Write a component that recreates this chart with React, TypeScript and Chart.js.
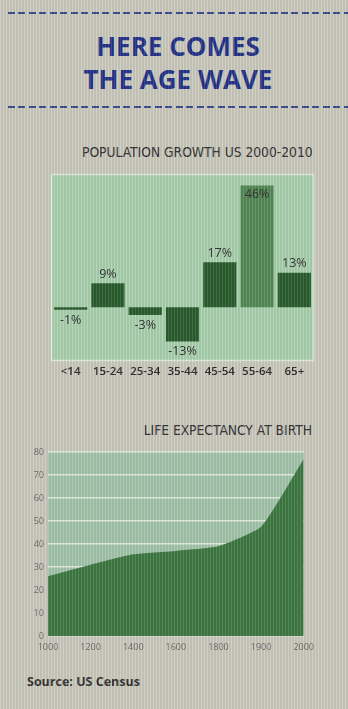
import React, { useEffect, useRef } from "react";
import { Chart, registerables } from "chart.js";

Chart.register(...registerables);
Chart.defaults.font.family = '"Open Sans", "DejaVu Sans", sans-serif';

// ---- data ----
const ageGroups = ["<14", "15-24", "25-34", "35-44", "45-54", "55-64", "65+"];
const growthPct = [-1, 9, -3, -13, 17, 46, 13];

const years = ["1000", "1200", "1400", "1600", "1800", "1900", "2000"];
const lifeExpectancy = [26, 31, 35.5, 37, 39, 47.5, 77];

const growthMin = -20;
const growthMax = 50;
const lifeMin = 0;
const lifeMax = 80;
const lifeStep = 10;

// ---- styles ----
const BAR_DARK = "#2b5e2f";
const BAR_HIGHLIGHT = "#558c57";
const BAR_PLOT_BG = "#acd3b0";
const LINE_PLOT_BG = "#a5c6ad";
const LINE_FILL = "#3f7a43";
const NAVY = "#25348a";

const plotBackground = (color: string, border?: string) => ({
  id: "plotBg",
  beforeDraw(chart: any) {
    const { ctx, chartArea } = chart;
    ctx.save();
    ctx.fillStyle = color;
    ctx.fillRect(chartArea.left, chartArea.top, chartArea.right - chartArea.left, chartArea.bottom - chartArea.top);
    if (border) {
      ctx.strokeStyle = border;
      ctx.lineWidth = 1.5;
      ctx.strokeRect(chartArea.left - 0.5, chartArea.top - 0.5, chartArea.right - chartArea.left + 1, chartArea.bottom - chartArea.top + 1);
    }
    ctx.restore();
  },
});

const valueLabels = {
  id: "valueLabels",
  afterDatasetsDraw(chart: any) {
    const { ctx, chartArea } = chart;
    const meta = chart.getDatasetMeta(0);
    ctx.save();
    ctx.font = '12.5px "Open Sans", sans-serif';
    ctx.fillStyle = "#2f2f2f";
    ctx.textAlign = "center";
    meta.data.forEach((bar: any, i: number) => {
      const v = growthPct[i];
      const text = `${v}%`;
      const { x, y } = bar.getProps(["x", "y"], true);
      if (v >= 0) {
        if (y - 20 < chartArea.top) {
          ctx.textBaseline = "top";
          ctx.fillText(text, x, y + 3);
        } else {
          ctx.textBaseline = "bottom";
          ctx.fillText(text, x, y - 3);
        }
      } else {
        ctx.textBaseline = "top";
        ctx.fillText(text, x, y + 4);
      }
    });
    ctx.restore();
  },
};

function GrowthChart() {
  const ref = useRef<HTMLCanvasElement>(null);
  useEffect(() => {
    const maxIdx = growthPct.indexOf(Math.max(...growthPct));
    const chart = new Chart(ref.current!, {
      type: "bar",
      data: {
        labels: ageGroups,
        datasets: [
          {
            data: growthPct,
            backgroundColor: (c: any) => (c.dataIndex === maxIdx ? BAR_HIGHLIGHT : BAR_DARK),
            borderWidth: 0,
            categoryPercentage: 1,
            barPercentage: 0.89,
          },
        ],
      },
      options: {
        responsive: false,
        animation: false,
        layout: { padding: { left: 12, right: 17, top: 7, bottom: 0 } },
        plugins: { legend: { display: false }, tooltip: { enabled: false } },
        scales: {
          x: {
            grid: { display: false, drawTicks: false },
            border: { display: false },
            ticks: {
              color: "#2a2a2a",
              font: { size: 11.5, weight: 600 },
              padding: 5,
              maxRotation: 0,
              autoSkip: false,
            },
            afterFit: (s: any) => {
              s.height = 25;
            },
          },
          y: { display: false, min: growthMin, max: growthMax },
        },
      },
      plugins: [plotBackground(BAR_PLOT_BG, "#e2ebdc"), valueLabels],
    });
    return () => chart.destroy();
  }, []);
  return (
    <canvas
      ref={ref}
      width={290}
      height={217}
      style={{ position: "absolute", left: 40, top: 168, width: 290, height: 217 }}
    />
  );
}

function LifeChart() {
  const ref = useRef<HTMLCanvasElement>(null);
  useEffect(() => {
    const chart = new Chart(ref.current!, {
      type: "line",
      data: {
        labels: years,
        datasets: [
          {
            data: lifeExpectancy,
            fill: "origin",
            backgroundColor: LINE_FILL,
            borderWidth: 0,
            pointRadius: 0,
            tension: 0.15,
          },
        ],
      },
      options: {
        responsive: false,
        animation: false,
        layout: { padding: { left: 0, right: 7, top: 12, bottom: 0 } },
        plugins: { legend: { display: false }, tooltip: { enabled: false } },
        scales: {
          x: {
            grid: { display: false, drawTicks: false },
            border: { display: false },
            ticks: { color: "#6a6a6a", font: { size: 9 }, padding: 6, maxRotation: 0, autoSkip: false },
            afterFit: (s: any) => {
              s.height = 26;
            },
          },
          y: {
            min: lifeMin,
            max: lifeMax,
            z: 1,
            grid: { color: "#e4ede0", lineWidth: 1.5, drawTicks: false },
            border: { display: false },
            ticks: { stepSize: lifeStep, color: "#6a6a6a", font: { size: 9 }, padding: 4 },
            afterFit: (s: any) => {
              s.width = 32;
            },
          },
        },
      },
      plugins: [plotBackground(LINE_PLOT_BG)],
    });
    return () => chart.destroy();
  }, []);
  return (
    <canvas
      ref={ref}
      width={304}
      height={222}
      style={{ position: "absolute", left: 16, top: 440, width: 304, height: 222 }}
    />
  );
}

const dashLine = (top: number): React.CSSProperties => ({
  position: "absolute",
  left: 8,
  right: 0,
  top,
  height: 2,
  background: `repeating-linear-gradient(90deg, #3b4c8e 0px, #3b4c8e 7px, transparent 7px, transparent 10.5px)`,
});

const chartTitle: React.CSSProperties = {
  position: "absolute",
  fontFamily: '"Liberation Sans Narrow", "DejaVu Sans Condensed", sans-serif',
  fontSize: 13.7,
  lineHeight: "15px",
  color: "#333333",
  whiteSpace: "nowrap",
};

export default function App() {
  return (
    <div
      style={{
        position: "fixed",
        left: 0,
        top: 0,
        width: 348,
        height: 709,
        background: "#cdcbbf",
        overflow: "hidden",
      }}
    >
      <div style={dashLine(12)} />
      <div
        style={{
          position: "absolute",
          left: 0,
          width: 356,
          top: 30,
          textAlign: "center",
          fontFamily: '"Open Sans", sans-serif',
          fontWeight: 700,
          fontSize: 26,
          lineHeight: "33px",
          color: NAVY,
        }}
      >
        HERE COMES
        <br />
        THE AGE WAVE
      </div>
      <div style={dashLine(106)} />
      <div style={{ ...chartTitle, left: 82, top: 145 }}>POPULATION GROWTH US 2000-2010</div>
      <GrowthChart />
      <div style={{ ...chartTitle, right: 36, top: 423 }}>LIFE EXPECTANCY AT BIRTH</div>
      <LifeChart />
      <div
        style={{
          position: "absolute",
          left: 27,
          top: 674,
          fontFamily: '"Open Sans", sans-serif',
          fontWeight: 700,
          fontSize: 12.5,
          lineHeight: "16px",
          color: "#333333",
        }}
      >
        Source: US Census
      </div>
      <div
        style={{
          position: "absolute",
          inset: 0,
          pointerEvents: "none",
          background:
            "repeating-linear-gradient(90deg, rgba(255,255,255,0.10) 0px, rgba(255,255,255,0.10) 1.5px, rgba(0,0,0,0.06) 1.5px, rgba(0,0,0,0.06) 3px)",
        }}
      />
    </div>
  );
}
